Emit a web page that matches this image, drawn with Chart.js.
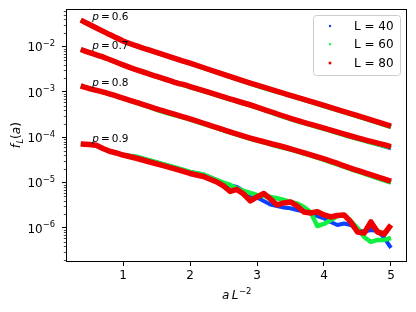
<!DOCTYPE html>
<html>
<head>
<meta charset="utf-8">
<script src="https://cdn.jsdelivr.net/npm/chart.js@4"></script>
<style>
  html, body { margin: 0; background: #fff; }
  #wrap { width: 416px; height: 312px; }
</style>
</head>
<body>
<div id="wrap"><canvas id="chart"></canvas></div>
<script>
// x grid for the smooth curves (p = 0.6, 0.7, 0.8)
const xSmooth = [0.37, 0.5, 0.75, 1.0, 1.25, 1.5, 1.75, 2.0, 2.5, 3.0, 3.5, 4.0, 4.5, 5.0];

const p06_L40 = [0.0385, 0.0308, 0.0202, 0.0134, 0.00984, 0.00748, 0.00566, 0.00431, 0.00246, 0.00140, 0.000840, 0.000502, 0.000296, 0.000172];
const p06_L60 = [0.0383, 0.0306, 0.0201, 0.0133, 0.00978, 0.00742, 0.00560, 0.00426, 0.00242, 0.00137, 0.000822, 0.000491, 0.000289, 0.000168];
const p06_L80 = [0.0385, 0.0308, 0.0202, 0.0134, 0.00984, 0.00748, 0.00566, 0.00431, 0.00246, 0.00141, 0.000845, 0.000506, 0.000299, 0.000177];

const p07_L40 = [0.00867, 0.00741, 0.00555, 0.00398, 0.00291, 0.00222, 0.00168, 0.00132, 0.000770, 0.000460, 0.000258, 0.000156, 0.0000940, 0.0000570];
const p07_L60 = [0.00862, 0.00736, 0.00550, 0.00394, 0.00288, 0.00219, 0.00165, 0.00129, 0.000760, 0.000450, 0.000253, 0.000153, 0.0000930, 0.0000590];
const p07_L80 = [0.00867, 0.00741, 0.00555, 0.00398, 0.00291, 0.00222, 0.00168, 0.00132, 0.000776, 0.000465, 0.000262, 0.000159, 0.0000966, 0.0000621];

const p08_L40 = [0.00135, 0.00119, 0.000951, 0.000730, 0.000557, 0.000420, 0.000325, 0.000254, 0.000145, 0.0000860, 0.0000550, 0.0000328, 0.0000182, 0.0000105];
const p08_L60 = [0.00135, 0.00118, 0.000945, 0.000722, 0.000548, 0.000405, 0.000314, 0.000247, 0.000142, 0.0000840, 0.0000535, 0.0000318, 0.0000176, 0.0000100];
const p08_L80 = [0.001355, 0.00119, 0.000951, 0.000730, 0.000557, 0.000422, 0.000327, 0.000256, 0.000147, 0.0000871, 0.0000557, 0.0000332, 0.0000185, 0.0000108];

// x grid for the noisy p = 0.9 curve
const xRough = [0.37, 0.5, 0.6, 0.7, 0.8, 0.9, 1.0, 1.2, 1.4, 1.6, 1.8, 2.0, 2.2,
  2.4, 2.5, 2.6, 2.7, 2.8, 2.9, 3.0, 3.1, 3.2, 3.3, 3.4, 3.5, 3.6, 3.7, 3.8, 3.9,
  4.0, 4.1, 4.2, 4.3, 4.4, 4.5, 4.6, 4.7, 4.8, 4.9, 5.0];

const p09_L40 = [7.11e-5, 6.93e-5, 6.65e-5, 5.66e-5, 4.91e-5, 4.50e-5, 4.06e-5, 3.71e-5, 3.08e-5, 2.55e-5, 2.10e-5, 1.71e-5, 1.51e-5,
  1.14e-5, 9.55e-6, 8.63e-6, 8.00e-6, 6.53e-6, 5.32e-6, 4.69e-6, 3.93e-6, 3.29e-6, 3.04e-6, 2.82e-6, 2.71e-6, 2.48e-6, 2.30e-6, 2.13e-6, 1.83e-6,
  1.63e-6, 1.35e-6, 1.16e-6, 1.25e-6, 1.16e-6, 8.99e-7, 8.24e-7, 8.99e-7, 8.55e-7, 5.98e-7, 3.60e-7];
const p09_L60 = [7.11e-5, 6.93e-5, 6.65e-5, 5.66e-5, 4.91e-5, 4.50e-5, 4.06e-5, 3.71e-5, 3.08e-5, 2.55e-5, 2.10e-5, 1.71e-5, 1.51e-5,
  1.14e-5, 1.00e-5, 8.85e-6, 7.41e-6, 6.53e-6, 5.89e-6, 5.32e-6, 5.06e-6, 4.81e-6, 4.50e-6, 4.13e-6, 3.73e-6, 3.46e-6, 2.89e-6, 2.24e-6, 1.10e-6,
  1.22e-6, 1.49e-6, 1.83e-6, 1.93e-6, 1.42e-6, 9.95e-7, 6.30e-7, 4.89e-7, 5.41e-7, 5.41e-7, 5.98e-7];
const p09_L80 = [7.11e-5, 6.93e-5, 6.65e-5, 5.66e-5, 4.91e-5, 4.50e-5, 4.06e-5, 3.44e-5, 2.85e-5, 2.36e-5, 1.95e-5, 1.59e-5, 1.36e-5,
  1.03e-5, 8.41e-6, 6.37e-6, 7.05e-6, 5.60e-6, 3.93e-6, 4.81e-6, 5.74e-6, 4.35e-6, 3.21e-6, 3.55e-6, 3.73e-6, 3.04e-6, 2.24e-6, 2.13e-6, 2.28e-6,
  1.93e-6, 1.74e-6, 1.88e-6, 1.93e-6, 1.35e-6, 8.11e-7, 7.71e-7, 1.35e-6, 8.11e-7, 7.33e-7, 1.16e-6];

const seriesNames = ['L = 40', 'L = 60', 'L = 80'];
const seriesColors = ['#0a40ff', '#10f040', '#ee0000'];
const xTicks = [1, 2, 3, 4, 5];
const yTicks = [1e-6, 1e-5, 1e-4, 1e-3, 1e-2];
const pLabels = ['0.6', '0.7', '0.8', '0.9'];
const pLabelX = 0.54;
const pLabelY = [0.0388, 0.0089, 0.00138, 7.8e-5];

const FONT = 'DejaVu Sans';
const FS = 12;

const curves = [
  { x: xSmooth, ys: [p06_L40, p06_L60, p06_L80], tension: 0.3 },
  { x: xSmooth, ys: [p07_L40, p07_L60, p07_L80], tension: 0.3 },
  { x: xSmooth, ys: [p08_L40, p08_L60, p08_L80], tension: 0.3 },
  { x: xRough, ys: [p09_L40, p09_L60, p09_L80], tension: 0 }
];

const widths = [4, 4.5, 5.5];
const datasets = [];
curves.forEach(c => {
  c.ys.forEach((ys, i) => {
    datasets.push({
      label: seriesNames[i],
      data: c.x.map((x, k) => ({ x: x, y: ys[k] })),
      showLine: true,
      borderColor: seriesColors[i],
      backgroundColor: seriesColors[i],
      borderWidth: widths[i],
      pointRadius: 0,
      tension: c.tension,
      borderJoinStyle: 'round',
      order: 2 - i // red drawn last (on top)
    });
  });
});

function supText(ctx, base, sup, x, y, size) {
  // base + superscript, right aligned at x
  ctx.font = size + 'px ' + FONT;
  const wb = ctx.measureText(base).width;
  ctx.font = (size * 0.7) + 'px ' + FONT;
  const ws = ctx.measureText(sup).width;
  const x0 = x - wb - ws;
  ctx.textAlign = 'left';
  ctx.textBaseline = 'alphabetic';
  ctx.font = size + 'px ' + FONT;
  ctx.fillText(base, x0, y);
  ctx.font = (size * 0.7) + 'px ' + FONT;
  ctx.fillText(sup, x0 + wb, y - size * 0.45);
}

const decor = {
  id: 'decor',
  afterDraw(chart) {
    const { ctx, chartArea: a, scales: { x, y } } = chart;
    ctx.save();
    ctx.fillStyle = '#000';
    ctx.strokeStyle = '#000';

    // frame
    ctx.lineWidth = 1;
    ctx.strokeRect(Math.round(a.left) + 0.5, Math.round(a.top) + 0.5,
      Math.round(a.right - a.left) - 1, Math.round(a.bottom - a.top) - 1);

    // minor log ticks
    ctx.lineWidth = 0.7;
    for (let e = -8; e <= -1; e++) {
      for (let m = 2; m <= 9; m++) {
        const v = m * Math.pow(10, e);
        if (v < y.min || v > y.max) continue;
        const py = Math.round(y.getPixelForValue(v)) + 0.5;
        ctx.beginPath();
        ctx.moveTo(a.left - 2.2, py);
        ctx.lineTo(a.left, py);
        ctx.stroke();
      }
    }

    // y tick labels 10^k
    yTicks.forEach(v => {
      const e = Math.round(Math.log10(v));
      const py = y.getPixelForValue(v);
      supText(ctx, '10', '\u2212' + Math.abs(e), a.left - 11, py + 4.8, FS);
    });

    // x title: a L^-2
    ctx.textBaseline = 'alphabetic';
    ctx.textAlign = 'left';
    const cx = (a.left + a.right) / 2;
    ctx.font = 'italic ' + FS + 'px ' + FONT;
    const wa = ctx.measureText('a\u2009L').width;
    ctx.font = '8.5px ' + FONT;
    const wsup = ctx.measureText('\u22122').width;
    const x0 = cx - (wa + wsup) / 2;
    ctx.font = 'italic ' + FS + 'px ' + FONT;
    ctx.fillText('a\u2009L', x0, 299);
    ctx.font = '8.5px ' + FONT;
    ctx.fillText('\u22122', x0 + wa + 0.5, 293.5);

    // y title: f_L(a), rotated
    ctx.save();
    ctx.translate(20, (a.top + a.bottom) / 2);
    ctx.rotate(-Math.PI / 2);
    const parts = [
      { t: 'f', f: 'italic ' + FS + 'px ' + FONT, dy: 0 },
      { t: 'L', f: 'italic 8.5px ' + FONT, dy: 2.5 },
      { t: '(', f: FS + 'px ' + FONT, dy: 0 },
      { t: 'a', f: 'italic ' + FS + 'px ' + FONT, dy: 0 },
      { t: ')', f: FS + 'px ' + FONT, dy: 0 }
    ];
    let tw = 0;
    parts.forEach(p => { ctx.font = p.f; p.w = ctx.measureText(p.t).width; tw += p.w; });
    let tx = -tw / 2;
    parts.forEach(p => { ctx.font = p.f; ctx.fillText(p.t, tx, p.dy); tx += p.w + (p.t === 'f' ? 0.5 : 0); });
    ctx.restore();

    // p = ... annotations
    pLabels.forEach((lab, i) => {
      const px = x.getPixelForValue(pLabelX);
      const py = y.getPixelForValue(pLabelY[i]);
      ctx.font = 'italic 10.5px ' + FONT;
      ctx.fillText('p', px, py);
      const wp = ctx.measureText('p').width;
      ctx.font = '10.5px ' + FONT;
      ctx.fillText('\u2009=\u2009' + lab, px + wp, py);
    });

    // legend
    const lx = 313, ly = 15, lw = 87, lh = 60;
    ctx.beginPath();
    ctx.roundRect(lx + 0.5, ly + 0.5, lw, lh, 3);
    ctx.fillStyle = 'rgba(255,255,255,0.8)';
    ctx.fill();
    ctx.strokeStyle = '#cccccc';
    ctx.lineWidth = 1;
    ctx.stroke();
    const rows = [26, 44.5, 63];
    rows.forEach((ry, i) => {
      ctx.fillStyle = seriesColors[i];
      const mx = 330;
      if (i === 0) {
        ctx.beginPath(); ctx.arc(mx, ry, 1.2, 0, Math.PI * 2); ctx.fill();
      } else if (i === 1) {
        ctx.beginPath(); ctx.moveTo(mx - 1.6, ry - 1.2); ctx.lineTo(mx + 1.6, ry - 1.2); ctx.lineTo(mx, ry + 1.6); ctx.closePath(); ctx.fill();
      } else {
        ctx.fillRect(mx - 1.3, ry - 1.3, 2.6, 2.6);
      }
      ctx.fillStyle = '#000';
      ctx.font = FS + 'px ' + FONT;
      ctx.textBaseline = 'middle';
      ctx.fillText(seriesNames[i], 354, ry + 0.5);
      ctx.textBaseline = 'alphabetic';
    });
    ctx.restore();
  }
};

const tickGrid = { display: true, drawOnChartArea: false, drawTicks: true, tickLength: 4, tickColor: '#000', tickWidth: 1 };

new Chart(document.getElementById('chart'), {
  type: 'scatter',
  data: { datasets },
  options: {
    responsive: true,
    maintainAspectRatio: false,
    animation: false,
    devicePixelRatio: 1,
    layout: { padding: { top: 9, right: 9, left: 0, bottom: 0 } },
    plugins: { legend: { display: false }, tooltip: { enabled: false } },
    scales: {
      x: {
        type: 'linear', min: 0.149, max: 5.239,
        afterBuildTicks: s => { s.ticks = xTicks.map(v => ({ value: v })); },
        afterFit: s => { s.height = 50; },
        grid: tickGrid,
        border: { display: false },
        ticks: { color: '#000', font: { family: FONT, size: FS }, padding: 3, maxRotation: 0, callback: v => String(v) }
      },
      y: {
        type: 'logarithmic', min: 1.765e-7, max: 0.0679,
        afterBuildTicks: s => { s.ticks = yTicks.map(v => ({ value: v })); },
        afterFit: s => { s.width = 66; },
        grid: tickGrid,
        border: { display: false },
        ticks: { display: false }
      }
    }
  },
  plugins: [decor]
});
</script>
</body>
</html>
